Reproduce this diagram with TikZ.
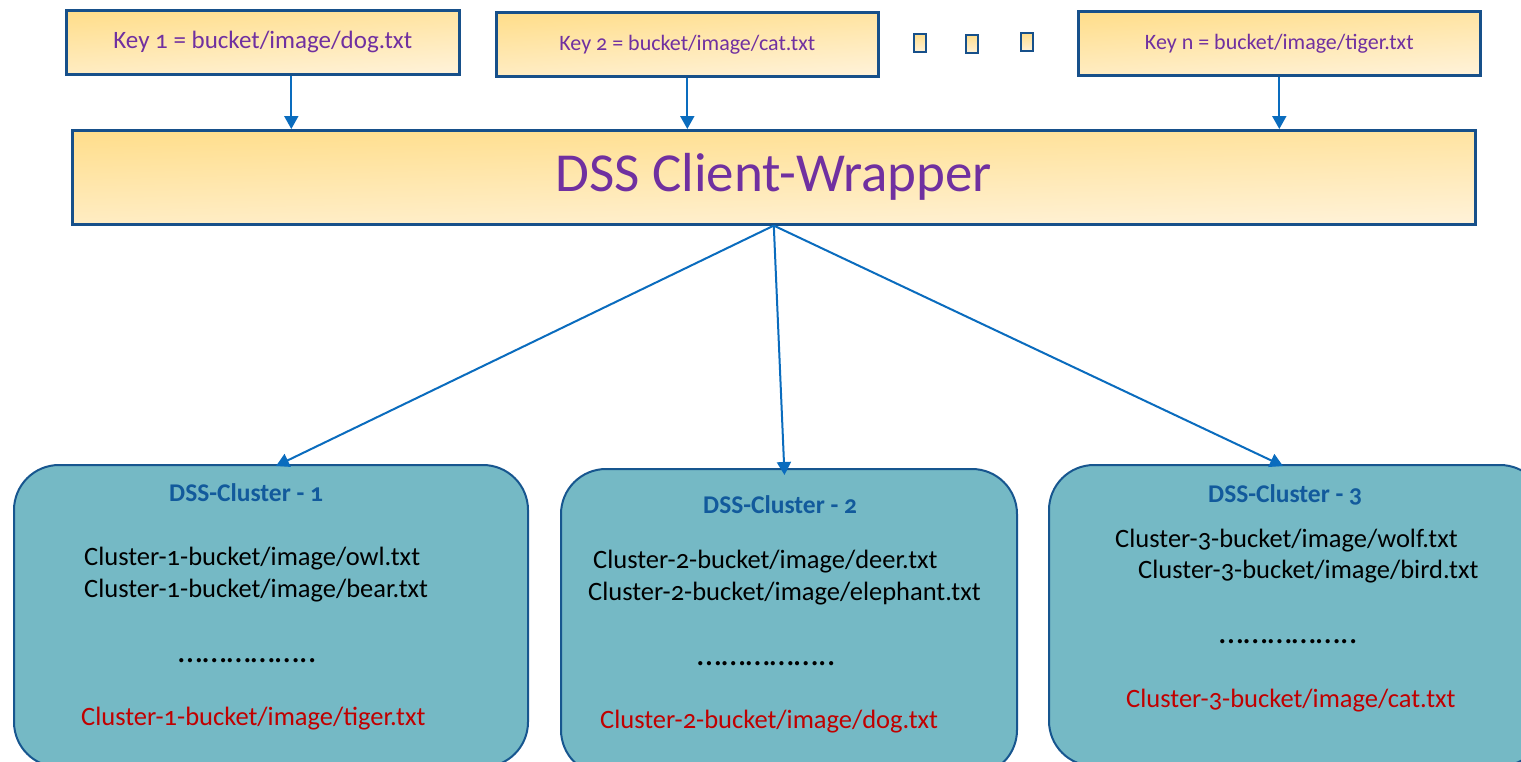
\documentclass[tikz,border=0pt]{standalone}
\usepackage{fontspec}
\setmainfont{Carlito}[Numbers=OldStyle]
\usetikzlibrary{arrows.meta,positioning}

\definecolor{boxline}{HTML}{17508A}
\definecolor{goldtop}{HTML}{FFDE8C}
\definecolor{goldbot}{HTML}{FFF2D8}
\definecolor{keytext}{HTML}{7030A0}
\definecolor{arrowblue}{HTML}{0A6CBE}
\definecolor{clusterfill}{HTML}{75B9C5}
\definecolor{clusterline}{HTML}{17568F}
\definecolor{clustertitle}{HTML}{125A9C}
\definecolor{hitred}{HTML}{C00000}

\tikzset{
  keybox/.style={draw=boxline, line width=2.6pt, top color=goldtop, bottom color=goldbot,
    shading angle=4, text=keytext, inner sep=0pt, anchor=north west},
  dotbox/.style={draw=boxline, line width=2.6pt, top color=goldtop, bottom color=goldbot,
    inner sep=0pt, minimum width=12, minimum height=18},
  clusterbox/.style={draw=clusterline, line width=2pt, fill=clusterfill,
    rounded corners=45pt, inner sep=0pt, anchor=north west},
  arr/.style={draw=arrowblue, line width=2pt, -{Triangle[width=14pt,length=13pt]}},
  ctitle/.style={font=\fontsize{25.5}{25.5}\selectfont\bfseries, text=clustertitle,
    anchor=base west, inner sep=0pt},
  entry/.style={font=\fontsize{26.5}{26.5}\selectfont, text=black, anchor=base west, inner sep=0pt},
  hit/.style={entry, text=hitred},
  dotrow/.style={font=\fontsize{35}{35}\selectfont, text=black, anchor=base west, inner sep=0pt},
}

\begin{document}
\begin{tikzpicture}[x=1pt, y=-1pt]
\clip (0,0) rectangle (1521,761);
\fill[white] (0,0) rectangle (1521,761);

% request keys
\node[keybox, minimum width=393, minimum height=64, font=\fontsize{25}{25}\selectfont] (k1) at (65,9) {Key 1 = bucket/image/dog.txt};
\node[keybox, minimum width=382, minimum height=64, font=\fontsize{22}{22}\selectfont] (k2) at (495,11) {Key 2 = bucket/image/cat.txt};
\node[keybox, minimum width=402, minimum height=64, font=\fontsize{22}{22}\selectfont] (kn) at (1077,10) {Key n = bucket/image/tiger.txt};

% ellipsis between the keys
\node[dotbox] (d1) at (920,43) {};
\node[dotbox] (d2) at (972,44) {};
\node[dotbox] (d3) at (1027,42) {};

% client wrapper
\node[keybox, shading angle=1.5, minimum width=1403, minimum height=94, font=\fontsize{55}{55}\selectfont] (w) at (71,129) {DSS Client-Wrapper};

% clusters
\node[clusterbox, minimum width=514, minimum height=302] (c1) at (13,464) {};
\node[clusterbox, minimum width=456, minimum height=306] (c2) at (560,468) {};
\node[clusterbox, minimum width=496, minimum height=301] (c3) at (1048,464) {};

% cluster 1 contents
\node[ctitle] (t1) at (169,501) {DSS-Cluster - 1};
\node[entry] (c1a) at (84,565) {Cluster-1-bucket/image/owl.txt};
\node[entry] (c1b) at (84,597) {Cluster-1-bucket/image/bear.txt};
\node[dotrow] (c1d) at (178,662) {……………..};
\node[hit] (c1r) at (81,725) {Cluster-1-bucket/image/tiger.txt};

% cluster 2 contents
\node[ctitle] (t2) at (703,513) {DSS-Cluster - 2};
\node[entry] (c2a) at (593,568) {Cluster-2-bucket/image/deer.txt};
\node[entry] (c2b) at (588,600) {Cluster-2-bucket/image/elephant.txt};
\node[dotrow] (c2d) at (697,665) {……………..};
\node[hit] (c2r) at (600,728) {Cluster-2-bucket/image/dog.txt};

% cluster 3 contents
\node[ctitle] (t3) at (1208,502) {DSS-Cluster - 3};
\node[entry] (c3a) at (1115,547) {Cluster-3-bucket/image/wolf.txt};
\node[entry] (c3b) at (1138,578) {Cluster-3-bucket/image/bird.txt};
\node[dotrow] (c3d) at (1219,643) {……………..};
\node[hit] (c3r) at (1126,707) {Cluster-3-bucket/image/cat.txt};

% keys into the wrapper
\draw[arr] ([xshift=28.5]k1.south) -- ([xshift=28.5]k1.south |- w.north);
\draw[arr] (k2.south) -- (k2.south |- w.north);
\draw[arr] (kn.south) -- (kn.south |- w.north);

% wrapper out to the clusters
\draw[arr] (w.south) -- ([xshift=5,yshift=-2]c1.north);
\draw[arr] (w.south) -- ([xshift=-4.5,yshift=-7]c2.north);
\draw[arr] (w.south) -- ([xshift=-14,yshift=-2]c3.north);
\end{tikzpicture}
\end{document}
